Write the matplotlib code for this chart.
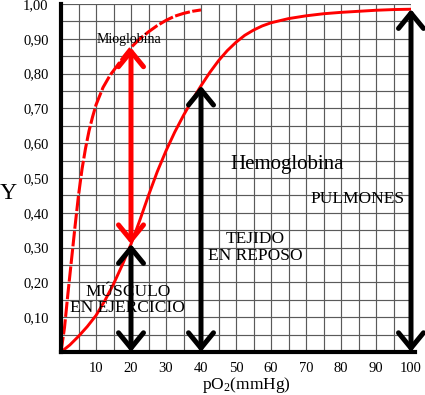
import matplotlib
matplotlib.use("Agg")
import matplotlib.pyplot as plt
from matplotlib.patches import FancyArrowPatch, ArrowStyle

plt.rcParams['font.family'] = ['Liberation Serif', 'DejaVu Serif']
plt.rcParams['mathtext.fontset'] = 'custom'
plt.rcParams['mathtext.rm'] = 'Liberation Serif'
plt.rcParams['mathtext.it'] = 'Liberation Serif:italic'

# Hemoglobin saturation curve (pO2 mmHg, Y)
hb_po2 = [0, 2.5, 5, 7.5, 10, 12.5, 15, 17.5, 20, 22.5, 25, 27.5, 30, 32.5, 35, 37.5,
          40, 42.5, 45, 47.5, 50, 52.5, 55, 57.5, 60, 65, 70, 75, 80, 85, 90, 95, 100]
hb_y = [0, 0.02, 0.045, 0.073, 0.105, 0.147, 0.195, 0.25, 0.31, 0.378, 0.45, 0.518,
        0.578, 0.632, 0.68, 0.724, 0.765, 0.803, 0.837, 0.866, 0.89, 0.91, 0.925,
        0.937, 0.946, 0.958, 0.966, 0.972, 0.976, 0.979, 0.982, 0.984, 0.985]

# Myoglobin saturation curve
mb_po2 = [0, 0.5, 1, 1.5, 2, 3, 4, 5, 6, 7, 8, 9, 10, 12, 14, 16, 18, 20,
          22.5, 25, 27.5, 30, 32.5, 35, 37.5, 40]
mb_y = [0, 0.035, 0.07, 0.12, 0.17, 0.265, 0.36, 0.45, 0.525, 0.585, 0.635, 0.675,
        0.71, 0.76, 0.795, 0.822, 0.85, 0.875, 0.9, 0.92, 0.938, 0.953, 0.965,
        0.973, 0.979, 0.983]

# Double arrows: (x, y_low, y_high, colour)
arrows = [
    (20, 0.31, 0.875, 'red'),
    (20, 0.0, 0.31, 'black'),
    (40, 0.0, 0.765, 'black'),
    (100, 0.0, 0.985, 'black'),
]

x_ticks = [10, 20, 30, 40, 50, 60, 70, 80, 90, 100]
y_ticks = [0.1, 0.2, 0.3, 0.4, 0.5, 0.6, 0.7, 0.8, 0.9, 1.0]
y_tick_labels = ['0,10', '0,20', '0,30', '0,40', '0,50', '0,60', '0,70', '0,80', '0,90', '1,00']

fig = plt.figure(figsize=(4.25, 3.95), dpi=100)
ax = fig.add_axes([61 / 425, 43 / 395, 350 / 425, 348 / 395])
ax.set_xlim(0, 100)
ax.set_ylim(0, 1)

ax.set_xticks(x_ticks)
ax.set_xticklabels([str(v) for v in x_ticks], fontsize=10.5)
ax.set_xticks([v - 5 for v in x_ticks] + [100], minor=True)
ax.set_yticks(y_ticks)
ax.set_yticklabels(y_tick_labels, fontsize=10.5)
ax.set_yticks([v - 0.05 for v in y_ticks] + [1.0], minor=True)
ax.tick_params(which='both', length=0)
ax.tick_params(axis='x', pad=7)
ax.tick_params(axis='y', pad=9)
ax.grid(True, which='both', color='#5a5a5a', linewidth=0.85)
ax.set_axisbelow(True)

for s in ['top', 'right']:
    ax.spines[s].set_visible(False)
for s in ['left', 'bottom']:
    ax.spines[s].set_linewidth(3.0)
    ax.spines[s].set_zorder(5)
ax.spines['bottom'].set_bounds(0, 101)

ax.plot(hb_po2, hb_y, color='#ff0000', lw=2.1, zorder=3, solid_capstyle='round',
        solid_joinstyle='round')
ax.plot(mb_po2, mb_y, color='#ff0000', lw=2.2, zorder=3, dashes=(5, 0.8))

style = ArrowStyle('<->', head_length=11, head_width=9)
for x, y0, y1, c in arrows:
    arr = FancyArrowPatch((x, y0), (x, y1), arrowstyle=style, mutation_scale=1,
                          color=c, lw=3.6, shrinkA=0, shrinkB=0, zorder=4,
                          clip_on=False)
    ax.add_patch(arr)

ax.text(19.3, 0.899, 'Mioglobina', fontsize=10, ha='center', va='center', zorder=6)
ax.text(64.6, 0.54, 'Hemoglobina', fontsize=15, ha='center', va='center', zorder=6)
ax.text(84.6, 0.44, 'PULMONES', fontsize=12.5, ha='center', va='center', zorder=6)
ax.text(55.4, 0.30, 'TEJIDO\nEN REPOSO', fontsize=12.5, ha='center', va='center',
        linespacing=1.05, zorder=6)
ax.text(19.1, 0.15, 'MÚSCULO\nEN EJERCICIO', fontsize=12.5, ha='center', va='center',
        linespacing=1.05, zorder=6)

fig.text(8 / 425, 1 - 194 / 395, 'Y', fontsize=17, ha='center', va='center')
fig.text(246 / 425, 1 - 385 / 395, 'pO$_2$(mmHg)', fontsize=12.5, ha='center', va='center')

fig.savefig('out.png', dpi=100)
